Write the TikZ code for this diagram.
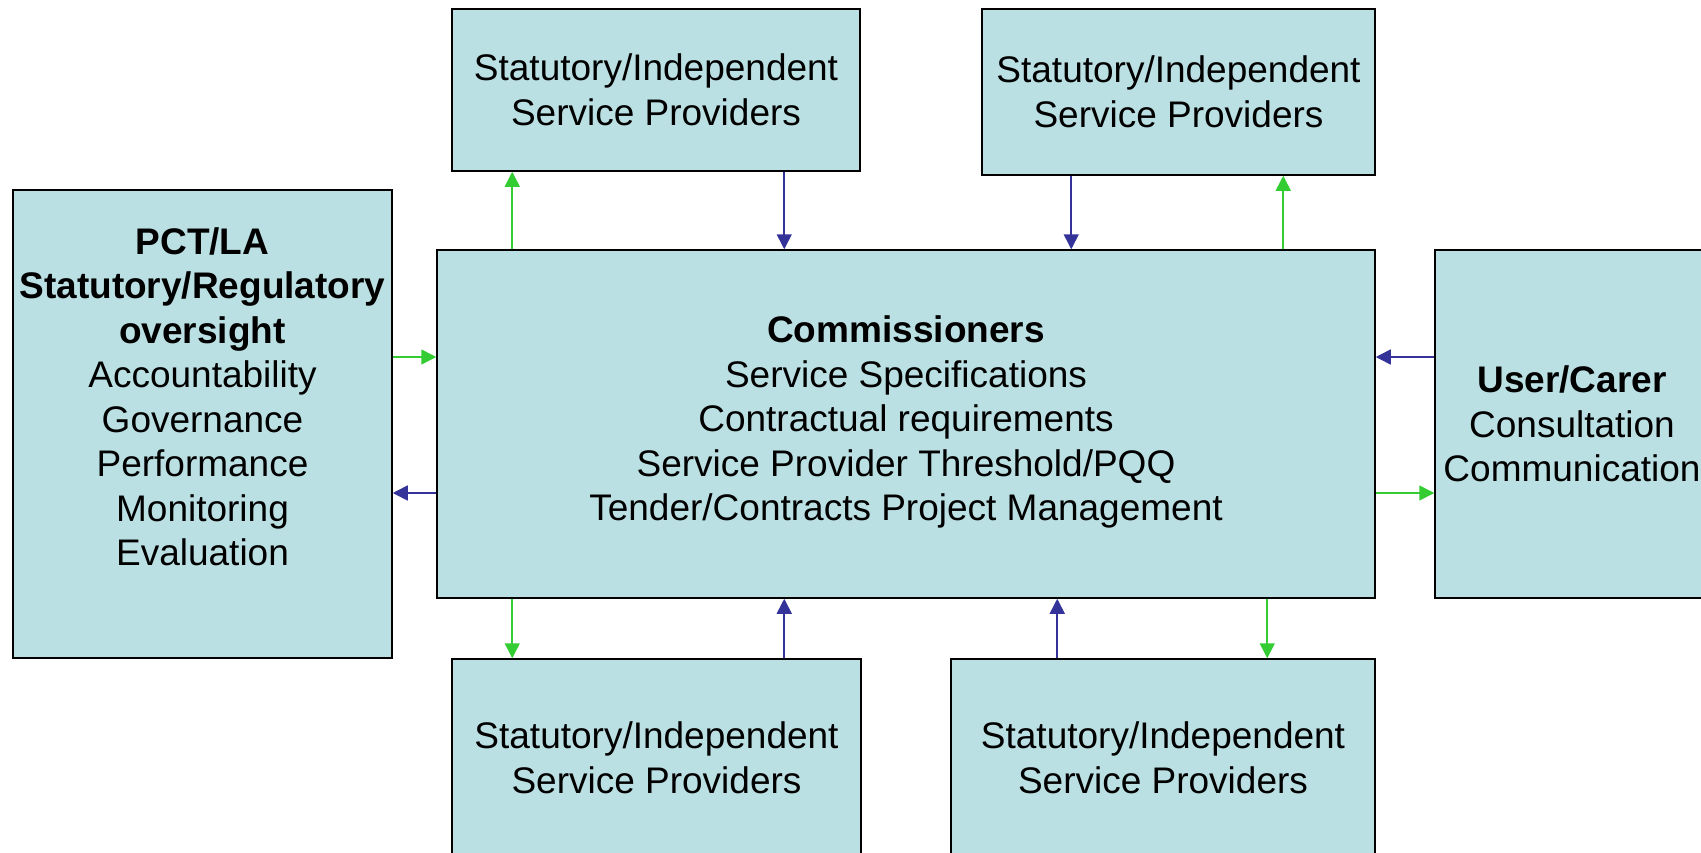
\documentclass[tikz,border=0pt]{standalone}
\usepackage{fontspec}
\setmainfont{Liberation Sans}
\usetikzlibrary{arrows.meta}
\usetikzlibrary{calc}

\definecolor{boxfill}{HTML}{BBE0E3}
\definecolor{fwdgreen}{HTML}{33CC33}
\definecolor{backblue}{HTML}{333399}

\begin{document}
\begin{tikzpicture}[x=1pt, y=-1pt,
  box/.style={rectangle, draw=black, line width=1.5pt, fill=boxfill, inner sep=0pt,
    align=center, font=\fontsize{37}{44.5}\selectfont},
  boxtext/.style={align=center, font=\fontsize{37}{44.5}\selectfont},
  green arrow/.style={draw=fwdgreen, line width=1.6pt, -{Triangle[length=15pt,width=15pt]}},
  blue arrow/.style={draw=backblue, line width=1.6pt, -{Triangle[length=15pt,width=15pt]}}]

\useasboundingbox (0,0) rectangle (1701,852);

% First, define the boxes
\node[box, minimum width=938pt, minimum height=348pt,
  label={[boxtext, yshift=2pt]center:{\textbf{Commissioners}\\Service Specifications\\Contractual requirements\\Service Provider Threshold/PQQ\\Tender/Contracts Project Management}}] (comm) at (906,424) {};
\node[box, minimum width=379pt, minimum height=468pt,
  label={[boxtext, yshift=27pt]center:{\textbf{PCT/LA}\\\textbf{Statutory/Regulatory}\\\textbf{oversight}\\Accountability\\Governance\\Performance\\Monitoring\\Evaluation}}] (pct) at (202.5,424) {};
\node[box, minimum width=274pt, minimum height=348pt] (user) at (1572,424) {\textbf{User/Carer}\\Consultation\\Communication};

\node[box, minimum width=408pt, minimum height=162pt] (provTL) at (656,90) {Statutory/Independent\\Service Providers};
\node[box, minimum width=393pt, minimum height=166pt] (provTR) at (1178.5,92) {Statutory/Independent\\Service Providers};
\node[box, minimum width=409pt, minimum height=198pt] (provBL) at (656.5,758) {Statutory/Independent\\Service Providers};
\node[box, minimum width=424pt, minimum height=198pt] (provBR) at (1163,758) {Statutory/Independent\\Service Providers};

% Arrows to and from the providers above
\draw[green arrow] ([xshift=76pt]comm.north west) -- ([xshift=76pt]comm.north west |- provTL.south);
\draw[blue arrow] ([xshift=348pt]comm.north west |- provTL.south) -- ([xshift=348pt]comm.north west);
\draw[blue arrow] ([xshift=635pt]comm.north west |- provTR.south) -- ([xshift=635pt]comm.north west);
\draw[green arrow] ([xshift=847pt]comm.north west) -- ([xshift=847pt]comm.north west |- provTR.south);

% Arrows to and from the providers below
\draw[green arrow] ([xshift=76pt]comm.south west) -- ([xshift=76pt]comm.south west |- provBL.north);
\draw[blue arrow] ([xshift=348pt]comm.south west |- provBL.north) -- ([xshift=348pt]comm.south west);
\draw[blue arrow] ([xshift=621pt]comm.south west |- provBR.north) -- ([xshift=621pt]comm.south west);
\draw[green arrow] ([xshift=831pt]comm.south west) -- ([xshift=831pt]comm.south west |- provBR.north);

% Side arrows
\draw[green arrow] ([yshift=67pt]pct.east) -- ([yshift=67pt]pct.east -| comm.west);
\draw[blue arrow] ([yshift=-69pt]pct.east -| comm.west) -- ([yshift=-69pt]pct.east);
\draw[blue arrow] ([yshift=67pt]user.west) -- ([yshift=67pt]user.west -| comm.east);
\draw[green arrow] ([yshift=-69pt]user.west -| comm.east) -- ([yshift=-69pt]user.west);
\end{tikzpicture}
\end{document}
